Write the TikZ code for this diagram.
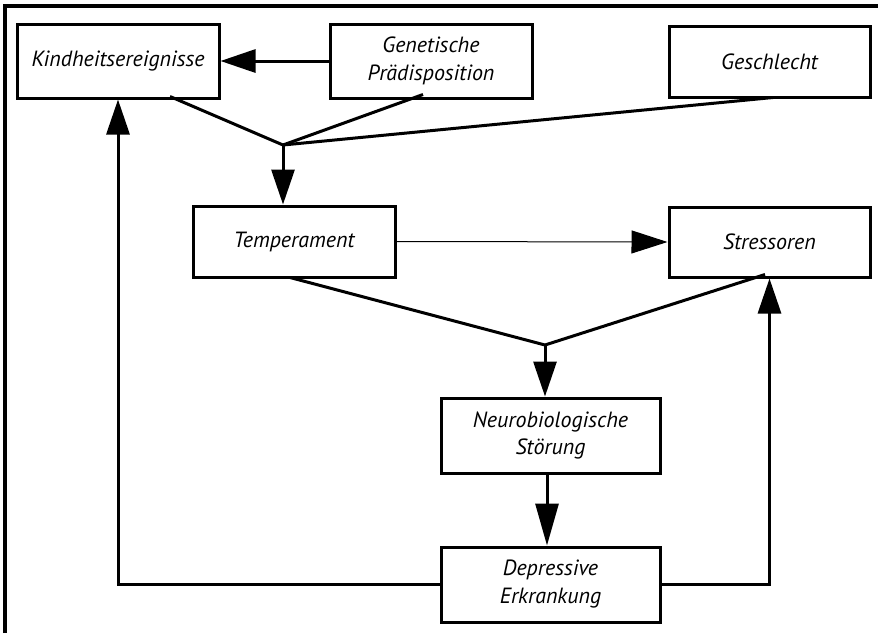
\documentclass[tikz,border=0pt]{standalone}
\usepackage{fontspec}
\setmainfont{PT Sans}
\usetikzlibrary{arrows.meta,positioning,calc}

\begin{document}
\begin{tikzpicture}[
          x=1pt,y=-1pt,
          every node/.style={font=\fontsize{22}{28}\selectfont\itshape},
          box/.style={draw,line width=3pt,minimum width=202pt,
                      minimum height=72pt,align=center,inner sep=4pt},
          widebox/.style={box,minimum width=219pt,minimum height=75pt},
          arr/.style={-{Triangle[length=35pt,width=23pt]},line width=3pt},
          thinarr/.style={-{Triangle[length=36pt,width=23pt]},line width=1pt},
          link/.style={line width=3pt},
          frame/.style={line width=3.5pt},
      ]
        \useasboundingbox (0,0) rectangle (878,633);
        \draw[frame] (5,633) -- (5,6) -- (878,6);

        \node[box,minimum height=74pt] (kind) at (118,61) {Kindheitsereignisse};
        \node[box,minimum height=74pt] (gen) at (431,61) {Genetische\\Prädisposition};
        \node[box,minimum width=201pt,minimum height=71pt] (ges) at (769.5,61.5) {Geschlecht};
        \node[box,minimum height=71pt] (temp) at (294,241.5) {Temperament};
        \node[box,minimum width=201pt,minimum height=70pt] (stress) at (769.5,242) {Stressoren};
        \node[widebox] (neuro) at (550.5,435.5) {Neurobiologische\\Störung};
        \node[widebox] (dep) at (550.5,584.5) {Depressive\\Erkrankung};

        \coordinate (j1) at (283,145);
        \coordinate (j2) at (545,345);

        \draw[arr] (gen.west) -- (kind.east);
        \draw[link] ([xshift=52pt,yshift=3pt]kind.south) -- (j1);
        \draw[link] ([xshift=-8pt,yshift=5pt]gen.south) -- (j1);
        \draw[link] ([xshift=3.5pt,yshift=1pt]ges.south) -- (j1);
        \draw[arr] (j1) -- (j1 |- temp.north);

        \draw[thinarr] (temp.east) -- (stress.west);
        \draw[link] ([xshift=-4pt,yshift=1pt]temp.south) -- (j2);
        \draw[link] ([xshift=-4.5pt,yshift=4pt]stress.south) -- (j2);
        \draw[arr] (j2) -- (j2 |- neuro.north);
        \draw[arr,-{Triangle[length=42pt,width=23pt]}] ([xshift=-3.5pt]neuro.south) -- ([xshift=-3.5pt]dep.north);

        \draw[arr] (dep.west) -| (kind.south);
        \draw[arr] (dep.east) -| (stress.south);
      \end{tikzpicture}
\end{document}
